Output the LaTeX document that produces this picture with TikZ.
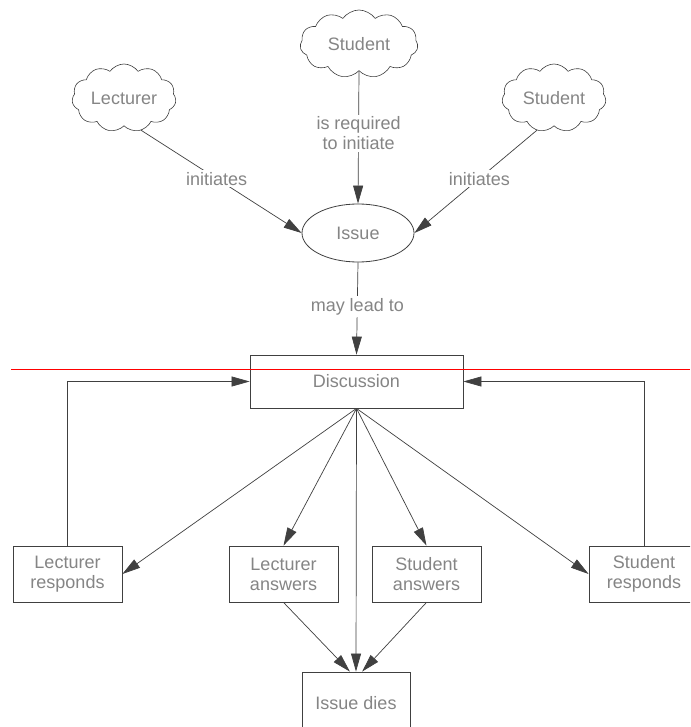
\documentclass[tikz,border=0pt]{standalone}
\usepackage{fontspec}
\setmainfont{Liberation Sans}
\usetikzlibrary{shapes.symbols,shapes.geometric,arrows.meta}
\definecolor{linegray}{HTML}{404040}
\definecolor{textgray}{HTML}{858585}
\tikzset{
  every node/.style={font=\fontsize{18}{20}\selectfont, text=textgray},
  cloudnode/.style={cloud, cloud puffs=11, cloud puff arc=110, aspect=1.7, draw=linegray, line width=0.6pt, inner sep=0pt, minimum width=#1, minimum height=68pt},
  boxnode/.style={rectangle, draw=linegray, line width=0.8pt, minimum width=109pt, minimum height=56pt, align=center, inner sep=0pt},
  conn/.style={draw=linegray, line width=0.7pt},
  arr/.style={conn, -{Triangle[length=18pt,width=10pt]}},
  lbl/.style={fill=white, inner sep=2pt, align=center},
}
\begin{document}
\begin{tikzpicture}[x=1pt,y=-1pt]
\clip (0,0) rectangle (690,727);
\fill[white] (0,0) rectangle (690,727);

% clouds
\node[cloudnode=118pt] (stop) at (359,44) {Student};
\node[cloudnode=104pt] (lect) at (124,98) {Lecturer};
\node[cloudnode=104pt] (sright) at (554,98) {Student};

% issue
\node[ellipse, draw=linegray, line width=0.8pt, minimum width=112pt, minimum height=58pt, inner sep=0pt] (issue) at (358,233) {Issue};

% discussion
\node[boxnode, minimum width=213pt, minimum height=53pt] (disc) at (356.5,381.5) {Discussion};

% divider line
\coordinate (dl) at (11,369);
\coordinate (dr) at (690,369);
\draw[red, line width=0.8pt] (dl) -- (dr);

% bottom boxes
\node[boxnode] (lr) at (67.5,574) {Lecturer\\responds};
\node[boxnode] (la) at (283.5,574) {Lecturer\\answers};
\node[boxnode] (sa) at (426.5,574) {Student\\answers};
\node[boxnode, minimum width=110pt] (sr) at (644,574) {Student\\responds};
\node[boxnode, minimum width=108pt, minimum height=62pt] (id) at (356,703) {Issue dies};

% top connectors
\draw[arr] (stop.south) -- node[lbl, pos=0.47] {is required\\to initiate} (issue.north);
\draw[arr] (lect.-62) -- node[lbl, pos=0.47] {initiates} (issue.west);
\draw[arr] (sright.-118) -- node[lbl, pos=0.47] {initiates} (issue.east);
\draw[arr] (issue.south) -- node[lbl, pos=0.48] {may lead to} (disc.north);

% discussion fan-out
\draw[arr] (disc.south) -- (lr.east);
\draw[arr] (disc.south) -- (la.north);
\draw[arr] (disc.south) -- (sa.north);
\draw[arr] (disc.south) -- (sr.west);
\draw[arr] (disc.south) -- (id.north);
\draw[arr] (la.south) -- (id.101);
\draw[arr] (sa.south) -- (id.79);

% feedback loops
\draw[arr] (lr.north) |- (disc.west);
\draw[arr] (sr.north) |- (disc.east);
\end{tikzpicture}
\end{document}
